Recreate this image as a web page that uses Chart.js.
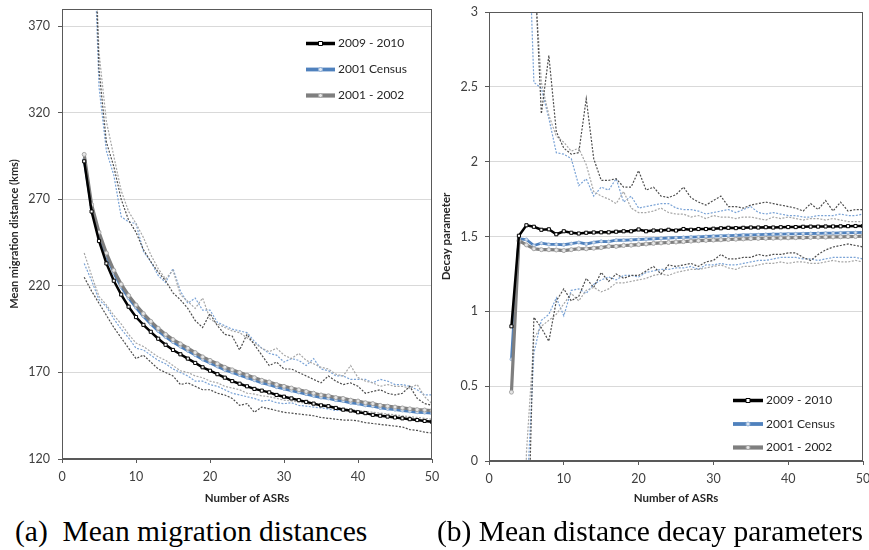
<!DOCTYPE html>
<html lang="en">
<head>
  <meta charset="UTF-8">
  <title>Mean migration distances and decay parameters</title>
  <script src="https://cdn.jsdelivr.net/npm/chart.js"></script>
  <style>
    body {
      margin: 0;
      background: #fff;
      width: 869px;
      height: 550px;
      overflow: hidden;
      position: relative;
    }
    #wrapA { position: absolute; left: 0; top: 0; width: 440px; height: 510px; }
    #wrapB { position: absolute; left: 435px; top: 0; width: 434px; height: 510px; }
    .caption {
      position: absolute;
      top: 517px;
      font-family: 'Liberation Serif', 'Times New Roman', serif;
      font-size: 29.5px;
      line-height: 29px;
      white-space: pre;
      color: #000;
    }
  </style>
</head>
<body>
  <div id="wrapA"><canvas id="chartA" width="440" height="510"></canvas></div>
  <div id="wrapB"><canvas id="chartB" width="434" height="510"></canvas></div>
  <div class="caption" style="left:15px">(a)  Mean migration distances</div>
  <div class="caption" style="left:437px">(b) Mean distance decay parameters</div>

  <script>
    // Number of ASRs (x values, 3 to 50)
    const asrs = [3, 4, 5, 6, 7, 8, 9, 10, 11, 12, 13, 14, 15, 16, 17, 18, 19, 20, 21, 22, 23, 24, 25, 26,
      27, 28, 29, 30, 31, 32, 33, 34, 35, 36, 37, 38, 39, 40, 41, 42, 43, 44, 45, 46, 47, 48, 49, 50];

    const seriesNames = ['2009 - 2010', '2001 Census', '2001 - 2002'];

    // (a) mean migration distance (kms)
    const distBlack = [292, 263, 246, 233, 223, 215, 208, 202, 197.5, 193.5, 189.5, 186, 183, 180.5, 178, 175.5,
      173, 171, 169, 167, 165, 163.5, 162, 160.5, 159.5, 158.5, 157, 156, 155, 154, 153, 152, 151, 150.5, 149.5,
      148.5, 148, 147, 146.5, 145.5, 145, 144.5, 144, 143.5, 143, 142.5, 142, 141.5];
    const distBlue = [293, 265, 249.5, 237.5, 227.5, 219.5, 213, 207.5, 202.5, 198, 194, 190.5, 187.5, 185, 182.5,
      180, 177.5, 175.5, 173.5, 171.5, 170, 168.5, 167, 165.5, 164, 163, 161.5, 160.5, 159.5, 158.5, 157.5, 156.5,
      155.5, 155, 154, 153.5, 152.5, 152, 151, 150.5, 149.5, 149, 148.5, 148, 147.5, 147, 146.8, 146.5];
    const distGray = [296, 267, 251, 239, 229, 221, 214.5, 209, 204, 199.5, 195.5, 192, 189, 186.5, 184, 181.5,
      179, 177, 175, 173, 171.5, 170, 168.5, 167, 165.5, 164.5, 163, 162, 161, 160, 159, 158, 157, 156.5, 155.5,
      155, 154, 153.5, 152.5, 152, 151, 150.5, 150, 149.5, 149, 148.5, 148.3, 148];
    const distBlackHi = [700, 480, 345, 303, 289, 270, 258, 251, 241, 234, 228, 223, 216, 212, 207, 200, 196, 204,
      197, 192, 191, 183, 192, 186, 180, 174, 176, 172, 172, 170, 168, 166, 164, 168, 165, 163, 164, 162, 158, 159,
      160, 158, 157, 158, 162, 155, 152, 151];
    const distBlueHi = [690, 460, 335, 298, 284, 260, 257, 256, 240, 234, 226, 222, 230, 217, 210, 213, 206, 206,
      199, 197, 195, 194, 193, 188, 184, 181, 180, 176, 178, 177, 174, 178, 172, 171, 168, 168, 166, 166, 166, 164,
      166, 165, 163, 163, 162, 160, 157, 157];
    const distGrayHi = [720, 470, 355, 315, 295, 275, 263, 256, 248, 238, 230, 224, 229, 215, 211, 207, 213, 201,
      198, 196, 194, 193, 190, 187, 184, 182, 184, 180, 178, 181, 177, 175, 173, 172, 169, 168, 174, 167, 165, 164,
      162, 163, 162, 162, 161, 163, 156, 152];
    const distBlackLo = [225, 217, 210, 203, 196, 190, 184, 178, 180, 176, 172, 170, 168, 163, 164, 162, 160, 160,
      158, 157, 155, 151, 152, 147, 150, 149, 148, 147, 146.5, 146, 145.5, 145, 144, 143.5, 143, 142.5, 142.5, 142,
      141, 140.5, 140, 139.5, 139, 138.5, 137, 136.5, 135.5, 135];
    const distBlueLo = [233, 223, 212, 208, 201, 195, 190, 184, 183, 180, 177, 175, 172, 170, 168, 165, 165, 163,
      162, 160, 158, 157, 156, 155, 153.5, 154, 152.5, 152, 152.5, 151, 150.5, 150, 149.5, 149, 148, 148.5, 148, 147,
      146.5, 145.5, 145, 144.5, 144, 143, 143, 142.5, 142, 141.5];
    const distGrayLo = [239, 226, 214, 209, 203, 198, 192, 187, 185, 182, 179, 177, 174, 171, 170, 168, 167, 165,
      164, 162, 161, 160, 158, 157.5, 156.5, 156, 155, 154, 153.5, 153, 152, 151.5, 151, 150.5, 150, 149, 148.5, 148,
      147.5, 147, 146.5, 146, 145.5, 145, 144.5, 144, 143.5, 143];

    // (b) decay parameter
    const decayBlack = [0.9, 1.505, 1.575, 1.565, 1.545, 1.548, 1.515, 1.535, 1.525, 1.52, 1.525, 1.527, 1.528,
      1.528, 1.532, 1.535, 1.535, 1.547, 1.535, 1.54, 1.54, 1.545, 1.54, 1.55, 1.545, 1.55, 1.55, 1.552, 1.555, 1.558,
      1.556, 1.558, 1.56, 1.56, 1.562, 1.56, 1.562, 1.563, 1.563, 1.565, 1.566, 1.566, 1.567, 1.567, 1.568, 1.569,
      1.57, 1.57];
    const decayBlue = [0.68, 1.485, 1.48, 1.44, 1.455, 1.447, 1.447, 1.445, 1.452, 1.46, 1.45, 1.46, 1.468, 1.466,
      1.475, 1.475, 1.478, 1.48, 1.482, 1.485, 1.488, 1.49, 1.492, 1.494, 1.496, 1.498, 1.5, 1.502, 1.504, 1.506,
      1.508, 1.51, 1.511, 1.512, 1.514, 1.515, 1.516, 1.517, 1.518, 1.519, 1.52, 1.521, 1.522, 1.523, 1.524, 1.525,
      1.526, 1.527];
    const decayGray = [0.46, 1.472, 1.444, 1.418, 1.412, 1.412, 1.41, 1.406, 1.412, 1.418, 1.418, 1.422, 1.426,
      1.434, 1.434, 1.44, 1.442, 1.446, 1.45, 1.454, 1.457, 1.46, 1.463, 1.466, 1.469, 1.472, 1.474, 1.476, 1.478,
      1.48, 1.482, 1.484, 1.486, 1.487, 1.488, 1.489, 1.49, 1.491, 1.492, 1.493, 1.494, 1.495, 1.496, 1.497, 1.498,
      1.499, 1.5, 1.502];
    const decayBlackHi = [9, 7, 5, 3.4, 2.32, 2.71, 2.2, 2.09, 2.05, 2.06, 2.42, 2.02, 1.875, 1.875, 1.886, 1.83,
      1.83, 1.94, 1.81, 1.83, 1.77, 1.76, 1.78, 1.83, 1.76, 1.73, 1.71, 1.74, 1.77, 1.70, 1.70, 1.69, 1.71, 1.72,
      1.73, 1.72, 1.71, 1.70, 1.69, 1.67, 1.72, 1.68, 1.74, 1.67, 1.73, 1.67, 1.68, 1.68];
    const decayBlueHi = [9, 7, 4, 2.53, 2.49, 2.29, 2.06, 2.05, 2.02, 1.84, 1.886, 1.77, 1.83, 1.81, 1.886, 1.73,
      1.77, 1.69, 1.70, 1.71, 1.72, 1.72, 1.69, 1.68, 1.68, 1.67, 1.65, 1.66, 1.67, 1.68, 1.66, 1.68, 1.70, 1.66,
      1.65, 1.66, 1.65, 1.64, 1.64, 1.63, 1.63, 1.64, 1.64, 1.64, 1.65, 1.64, 1.64, 1.65];
    const decayGrayHi = [9, 7, 5, 3.3, 2.53, 2.31, 2.17, 2.13, 2.07, 2.09, 1.98, 1.8, 1.77, 1.75, 1.72, 1.8, 1.69,
      1.66, 1.66, 1.67, 1.69, 1.66, 1.65, 1.65, 1.63, 1.64, 1.62, 1.64, 1.63, 1.63, 1.62, 1.63, 1.63, 1.62, 1.61,
      1.63, 1.62, 1.63, 1.62, 1.61, 1.62, 1.62, 1.61, 1.62, 1.61, 1.60, 1.60, 1.60];
    const decayBlackLo = [-6, -4, -1, 0.96, 0.89, 0.8, 1.07, 1.15, 1.07, 1.10, 1.22, 1.16, 1.26, 1.2, 1.25, 1.22,
      1.24, 1.24, 1.27, 1.30, 1.25, 1.31, 1.30, 1.31, 1.32, 1.30, 1.33, 1.34, 1.38, 1.35, 1.35, 1.36, 1.36, 1.38,
      1.37, 1.38, 1.38, 1.39, 1.39, 1.36, 1.34, 1.38, 1.41, 1.43, 1.44, 1.45, 1.44, 1.43];
    const decayBlueLo = [-6, -4, -0.3, 0.72, 0.94, 0.98, 1.09, 0.97, 1.14, 1.15, 1.12, 1.18, 1.21, 1.23, 1.21, 1.24,
      1.24, 1.23, 1.26, 1.27, 1.28, 1.28, 1.29, 1.29, 1.30, 1.28, 1.31, 1.31, 1.32, 1.31, 1.31, 1.32, 1.33, 1.34,
      1.34, 1.35, 1.36, 1.36, 1.36, 1.35, 1.35, 1.34, 1.35, 1.36, 1.36, 1.36, 1.36, 1.35];
    const decayGrayLo = [-6, -4, 0.05, 0.82, 0.9, 0.94, 0.98, 1.05, 1.12, 1.07, 1.14, 1.16, 1.13, 1.15, 1.19, 1.19,
      1.2, 1.21, 1.22, 1.24, 1.25, 1.24, 1.26, 1.27, 1.28, 1.28, 1.29, 1.30, 1.31, 1.29, 1.28, 1.30, 1.30, 1.31,
      1.32, 1.32, 1.33, 1.32, 1.33, 1.33, 1.32, 1.32, 1.33, 1.34, 1.33, 1.33, 1.34, 1.33];

    // axis ticks
    const xTicks = [0, 10, 20, 30, 40, 50];
    const distTicks = [120, 170, 220, 270, 320, 370];
    const decayTicks = [0, 0.5, 1, 1.5, 2, 2.5, 3];

    Chart.defaults.font.family = "Lato, 'Open Sans', sans-serif";
    Chart.defaults.color = '#404040';

    function pts(vals) {
      return vals.map((v, i) => ({ x: asrs[i], y: v }));
    }

    // main series look: black squares, blue small dots, grey circles
    function mainSets(black, blue, gray) {
      return [
        { label: seriesNames[0], data: pts(black), borderColor: '#000', borderWidth: 2.5,
          pointStyle: 'rect', pointRadius: 2.2, pointBackgroundColor: '#fff', pointBorderColor: '#000', pointBorderWidth: 1 },
        { label: seriesNames[2], data: pts(gray), borderColor: '#7f7f7f', borderWidth: 3.2,
          pointStyle: 'circle', pointRadius: 2, pointBackgroundColor: '#e6e6e6', pointBorderColor: '#a6a6a6', pointBorderWidth: 1 },
        { label: seriesNames[1], data: pts(blue), borderColor: '#4f81bd', borderWidth: 2.8,
          pointStyle: 'circle', pointRadius: 1.5, pointBackgroundColor: '#dce6f2', pointBorderColor: '#95b3d7', pointBorderWidth: 1 }
      ];
    }

    function dotSet(vals, color) {
      return { label: '', data: pts(vals), borderColor: color, borderWidth: 1.2, borderDash: [2, 1.5],
        pointRadius: 0, tension: 0 };
    }

    // box around the plot area
    const frame = {
      id: 'frame',
      afterDatasetsDraw(chart) {
        const a = chart.chartArea;
        const ctx = chart.ctx;
        ctx.save();
        ctx.strokeStyle = '#595959';
        ctx.lineWidth = 1;
        ctx.strokeRect(Math.round(a.left) + 0.5, Math.round(a.top) + 0.5,
          Math.round(a.right - a.left) - 1, Math.round(a.bottom - a.top) - 1);
        ctx.restore();
      }
    };

    // legend drawn inside the plot
    const innerLegend = {
      id: 'innerLegend',
      afterDraw(chart, args, opts) {
        const ctx = chart.ctx;
        const order = [0, 2, 1];
        ctx.save();
        order.forEach((di, i) => {
          const ds = chart.data.datasets[di];
          const y = opts.y + i * opts.gap;
          ctx.strokeStyle = ds.borderColor;
          ctx.lineWidth = ds.borderWidth + 1;
          ctx.beginPath();
          ctx.moveTo(opts.x, y);
          ctx.lineTo(opts.x + opts.len, y);
          ctx.stroke();
          const mx = opts.x + opts.len / 2;
          ctx.fillStyle = ds.pointBackgroundColor;
          ctx.strokeStyle = ds.pointBorderColor;
          ctx.lineWidth = 1;
          ctx.beginPath();
          if (ds.pointStyle === 'rect') {
            ctx.rect(mx - 2, y - 2, 4, 4);
          } else {
            ctx.arc(mx, y, 2, 0, Math.PI * 2);
          }
          ctx.fill();
          ctx.stroke();
          ctx.fillStyle = '#262626';
          ctx.font = "12px Lato, 'Open Sans', sans-serif";
          ctx.textBaseline = 'middle';
          ctx.textAlign = 'left';
          ctx.fillText(ds.label, opts.x + opts.len + 3, y);
        });
        ctx.restore();
      }
    };

    function makeChart(id, cfg) {
      const datasets = mainSets(cfg.black, cfg.blue, cfg.gray).concat([
        dotSet(cfg.blackHi, '#4d4d4d'),
        dotSet(cfg.blackLo, '#4d4d4d'),
        dotSet(cfg.grayHi, '#a6a6a6'),
        dotSet(cfg.grayLo, '#a6a6a6'),
        dotSet(cfg.blueHi, '#7aa3d6'),
        dotSet(cfg.blueLo, '#7aa3d6')
      ]);
      return new Chart(document.getElementById(id), {
        type: 'line',
        data: { datasets: datasets },
        options: {
          responsive: false,
          animation: false,
          devicePixelRatio: 1,
          layout: { padding: { top: cfg.padTop, right: cfg.padRight, left: 0, bottom: 0 } },
          plugins: {
            legend: { display: false },
            tooltip: { enabled: false },
            innerLegend: cfg.legend
          },
          scales: {
            x: {
              type: 'linear',
              min: 0,
              max: 50,
              afterBuildTicks: s => { s.ticks = xTicks.map(v => ({ value: v })); },
              afterFit: s => { s.height = cfg.xHeight; s.paddingLeft = 0; s.paddingRight = 0; },
              grid: { drawOnChartArea: false, tickLength: 4, color: '#595959' },
              border: { color: '#595959' },
              ticks: { font: { size: 12.5 }, padding: 6, maxRotation: 0, callback: v => String(v) },
              title: { display: true, text: 'Number of ASRs', color: '#262626',
                font: { size: 11.5, weight: 'bold' }, padding: { top: 0, bottom: 5 } }
            },
            y: {
              min: cfg.yMin,
              max: cfg.yMax,
              afterBuildTicks: s => { s.ticks = cfg.yTicks.map(v => ({ value: v })); },
              afterFit: s => { s.width = cfg.yWidth; s.paddingTop = 0; s.paddingBottom = 0; },
              grid: { color: '#d9d9d9', tickColor: '#595959', tickLength: 4 },
              border: { color: '#595959' },
              ticks: { font: { size: 12.5 }, padding: cfg.yPad, callback: v => String(v) },
              title: { display: true, text: cfg.yTitle, color: '#262626',
                font: { size: cfg.yTitleSize, weight: 'bold' }, padding: { top: cfg.yTitlePad, bottom: 0 } }
            }
          }
        },
        plugins: [frame, innerLegend]
      });
    }

    makeChart('chartA', {
      black: distBlack, blue: distBlue, gray: distGray,
      blackHi: distBlackHi, blueHi: distBlueHi, grayHi: distGrayHi,
      blackLo: distBlackLo, blueLo: distBlueLo, grayLo: distGrayLo,
      yMin: 120, yMax: 380, yTicks: distTicks,
      yTitle: 'Mean migration distance (kms)', yTitleSize: 11, yTitlePad: 8,
      padTop: 9, padRight: 8, xHeight: 51, yWidth: 62, yPad: 8,
      legend: { x: 306, y: 43.5, gap: 26, len: 29 }
    });

    makeChart('chartB', {
      black: decayBlack, blue: decayBlue, gray: decayGray,
      blackHi: decayBlackHi, blueHi: decayBlueHi, grayHi: decayGrayHi,
      blackLo: decayBlackLo, blueLo: decayBlueLo, grayLo: decayGrayLo,
      yMin: 0, yMax: 3, yTicks: decayTicks,
      yTitle: 'Decay parameter', yTitleSize: 11.5, yTitlePad: 4,
      padTop: 12, padRight: 6, xHeight: 49, yWidth: 54, yPad: 7,
      legend: { x: 298, y: 400.5, gap: 23.5, len: 30 }
    });
  </script>
</body>
</html>
